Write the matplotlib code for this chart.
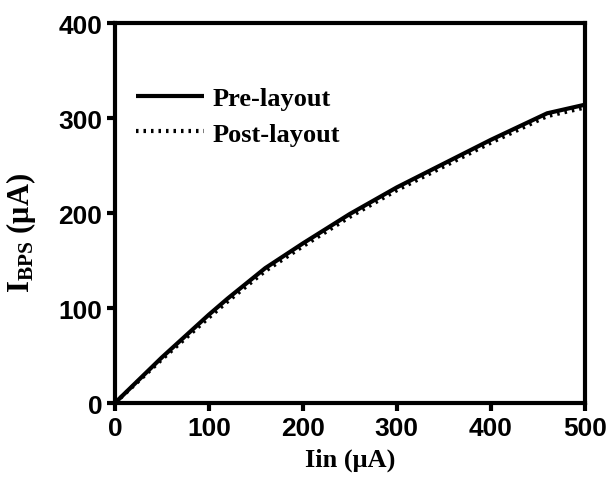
import matplotlib
matplotlib.use("Agg")
import matplotlib.pyplot as plt

iin = [0, 50, 100, 120, 160, 200, 250, 300, 350, 400, 460, 500]
pre_layout = [0, 48, 93, 110, 142, 168, 199, 227, 252, 277, 305, 314]
post_layout = [0, 46, 90, 107, 139, 165, 196, 224, 249, 274, 302, 311]
xticks = [0, 100, 200, 300, 400, 500]
yticks = [0, 100, 200, 300, 400]

plt.rcParams['mathtext.fontset'] = 'custom'
plt.rcParams['mathtext.rm'] = 'Liberation Serif:bold'
plt.rcParams['mathtext.bf'] = 'Liberation Serif:bold'
plt.rcParams['mathtext.it'] = 'Liberation Serif:bold'

fig = plt.figure(figsize=(6.11, 4.81), dpi=100)
ax = fig.add_axes([0.188, 0.16, 0.769, 0.79])

ax.plot(iin, pre_layout, color='black', lw=3, solid_capstyle='butt', label='Pre-layout')
ax.plot(iin, post_layout, color='black', lw=3, linestyle=(0, (0.6, 1.2)), label='Post-layout')

ax.set_xlim(0, 500)
ax.set_ylim(0, 400)
ax.set_xticks(xticks)
ax.set_yticks(yticks)
for s in ax.spines.values():
    s.set_linewidth(3)
ax.tick_params(axis='both', which='major', direction='out', length=6, width=3,
               labelsize=19, pad=3)
for lab in ax.get_xticklabels() + ax.get_yticklabels():
    lab.set_fontfamily('Liberation Sans')
    lab.set_fontweight('bold')

ax.set_xlabel('Iin (μA)', fontfamily='Liberation Serif', fontweight='bold', fontsize=19, labelpad=6)
ax.set_ylabel(r'$\mathrm{I_{BPS}}$ (μA)', fontfamily='Liberation Serif', fontweight='bold', fontsize=22, labelpad=10)
ax.yaxis.set_label_coords(-0.163, 0.45)

leg = ax.legend(loc='upper left', bbox_to_anchor=(0.022, 0.86), frameon=False,
                prop={'family': 'Liberation Serif', 'weight': 'bold', 'size': 19},
                handlelength=2.6, handletextpad=0.3, labelspacing=0.45, borderaxespad=0)

fig.savefig('out.png', dpi=100)
